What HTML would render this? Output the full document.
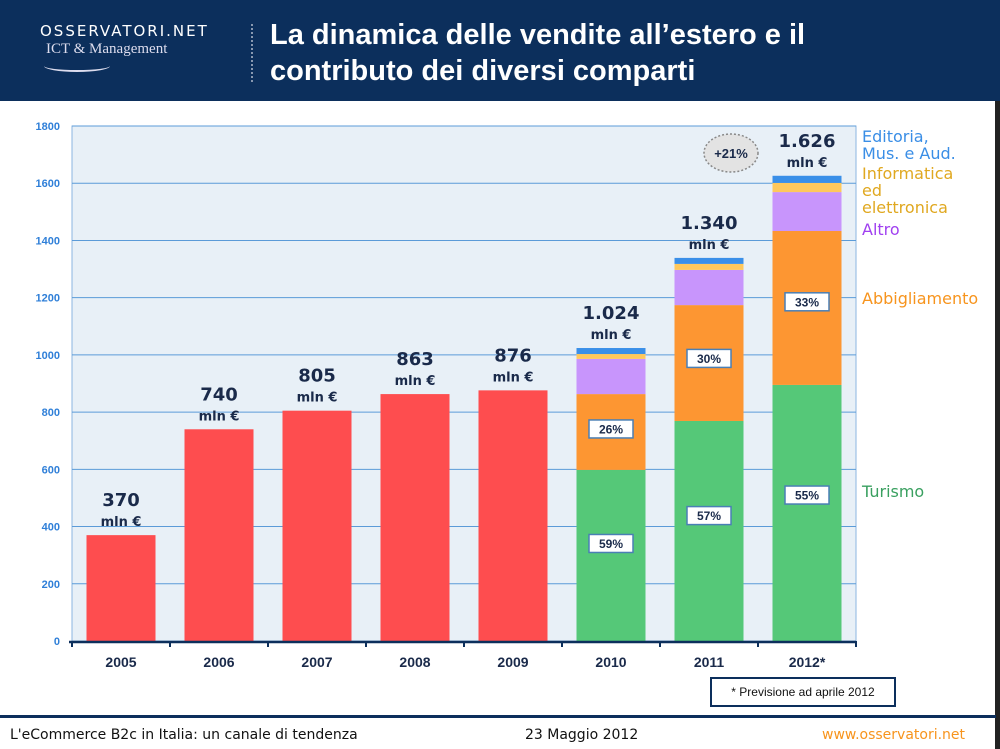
<!DOCTYPE html>
<html><head><meta charset="utf-8"><style>
body{margin:0;width:1000px;height:749px;overflow:hidden;background:#fff;font-family:"Liberation Sans","DejaVu Sans",sans-serif;position:relative}
.hdr{position:absolute;left:0;top:0;width:1000px;height:101px;background:#0c2f5c}
.t{position:absolute;color:#fff}
</style></head><body>
<div class="hdr">
 <div class="t" style="left:40px;top:22px;font-size:15px;letter-spacing:2px;font-family:'DejaVu Sans',sans-serif">OSSERVATORI.NET</div>
 <div class="t" style="left:46px;top:41px;font-size:15px;font-family:'Liberation Serif',serif;color:#dde">ICT &amp; Management</div>
 <div class="t" style="left:44px;top:60px;width:66px;height:10px;border-bottom:2px solid #dde;border-radius:0 0 50% 50%"></div>
 <div style="position:absolute;left:251px;top:24px;height:58px;border-left:2px dotted #8898b0"></div>
 <div class="t" style="left:270px;top:17px;font-size:29px;font-weight:bold;line-height:36px;font-family:'Liberation Sans',sans-serif">La dinamica delle vendite all’estero e il<br>contributo dei diversi comparti</div>
</div>
<div style="position:absolute;left:995px;top:101px;width:5px;height:648px;background:#222"></div>
<svg id="c" width="1000" height="749" style="position:absolute;left:0;top:0"></svg>
<div style="position:absolute;left:710px;top:677px;width:182px;height:26px;border:2px solid #0c2f5c;font-size:12px;line-height:26px;text-align:center;color:#111">* Previsione ad aprile 2012</div>
<div style="position:absolute;left:0;top:715px;width:996px;height:3px;background:#0c2f5c"></div>
<div style="position:absolute;left:10px;top:727px;font-size:14px;color:#111;font-family:'DejaVu Sans',sans-serif">L'eCommerce B2c in Italia: un canale di tendenza</div>
<div style="position:absolute;left:525px;top:727px;font-size:14px;color:#111;font-family:'DejaVu Sans',sans-serif">23 Maggio 2012</div>
<div style="position:absolute;left:822px;top:727px;font-size:14px;color:#f7941d;font-family:'DejaVu Sans',sans-serif">www.osservatori.net</div>
<script>
const years=["2005","2006","2007","2008","2009","2010","2011","2012*"];
const totalsSimple=[370,740,805,863,876,null,null,null];
const turismo=[0,0,0,0,0,598,769,895];
const abbigliamento=[0,0,0,0,0,265,405,538];
const altro=[0,0,0,0,0,123,123,136];
const informatica=[0,0,0,0,0,17,21,32];
const editoria=[0,0,0,0,0,21,21,25];
const totalLabels=["370","740","805","863","876","1.024","1.340","1.626"];
const pctTurismo=["","","","","","59%","57%","55%"];
const pctAbb=["","","","","","26%","30%","33%"];
const yTicks=[0,200,400,600,800,1000,1200,1400,1600,1800];
const NS="http://www.w3.org/2000/svg",svg=document.getElementById('c');
const X0=72,X1=856,Y0=641,Y1=126,MAX=1800;
const y=v=>Y0-(v/MAX)*(Y0-Y1);
const bw=(X1-X0)/years.length;
const cx=i=>X0+bw*(i+0.5);
function mk(t,a,txt){const e=document.createElementNS(NS,t);for(const k in a)e.setAttribute(k,a[k]);if(txt!=null)e.textContent=txt;svg.appendChild(e);return e;}
let e=mk('rect',{x:X0,y:Y1,width:X1-X0,height:Y0-Y1,fill:'#e8f0f7',stroke:'#8bb6e0','stroke-width':1});

yTicks.forEach(t=>{
 if(t>0){e=mk('line',{x1:X0,x2:X1,y1:y(t),y2:y(t),stroke:'#5b9bd8','stroke-width':1});
 }
 e=mk('text',{x:60,y:y(t)+4,'text-anchor':'end','font-size':11,'font-weight':'bold',fill:'#2f7fd8'},String(t));
 
});
const BW=69;
function seg(i,base,val,col,name){
 if(!val)return;
 const r=mk('rect',{x:cx(i)-BW/2,y:y(base+val),width:BW,height:y(base)-y(base+val),fill:col});
 
}
function box(i,mid,txt){
 const b=mk('rect',{x:cx(i)-22,y:y(mid)-9,width:44,height:18,fill:'#fff',stroke:'#4a7fb5','stroke-width':1.5});
 
 const t=mk('text',{x:cx(i),y:y(mid)+4.5,'text-anchor':'middle','font-size':12,'font-weight':'bold',fill:'#1a2a4a'},txt);
 
}
years.forEach((yr,i)=>{
 let top;
 if(totalsSimple[i]!=null){seg(i,0,totalsSimple[i],'#fe4d4f','bar-'+yr);top=totalsSimple[i];}
 else{
  let b=0;
  seg(i,b,turismo[i],'#55c878','bar-turismo');b+=turismo[i];
  seg(i,b,abbigliamento[i],'#fd9632','bar-abbigliamento');b+=abbigliamento[i];
  seg(i,b,altro[i],'#c895fc','bar-altro');b+=altro[i];
  seg(i,b,informatica[i],'#ffc85c','bar-informatica');b+=informatica[i];
  seg(i,b,editoria[i],'#3a8fe8','bar-editoria');b+=editoria[i];
  top=b;
  box(i,turismo[i]*0.57,pctTurismo[i]);
  box(i,turismo[i]+abbigliamento[i]*0.54,pctAbb[i]);
 }
 e=mk('text',{x:cx(i),y:y(top)-29,'text-anchor':'middle','font-size':18,'font-weight':'bold',fill:'#1a2a4a','font-family':'DejaVu Sans,sans-serif'},totalLabels[i]);
 
 e=mk('text',{x:cx(i),y:y(top)-9,'text-anchor':'middle','font-size':13,'font-weight':'bold',fill:'#1a2a4a','font-family':'DejaVu Sans,sans-serif'},'mln €');
 
 e=mk('text',{x:cx(i),y:667,'text-anchor':'middle','font-size':14,'font-weight':'bold',fill:'#1a2a4a'},yr);
 
});
e=mk('line',{x1:X0-3,x2:X1,y1:Y0+1,y2:Y0+1,stroke:'#0c2f5c','stroke-width':2.5});

for(let i=0;i<=years.length;i++){e=mk('line',{x1:X0+bw*i,x2:X0+bw*i,y1:Y0,y2:Y0+6,stroke:'#0c2f5c','stroke-width':2});
 }
e=mk('ellipse',{cx:731,cy:153,rx:27,ry:19,fill:'#e3e3e3',stroke:'#888','stroke-width':1.5,'stroke-dasharray':'2 2'});

e=mk('text',{x:731,y:158,'text-anchor':'middle','font-size':13,'font-weight':'bold',fill:'#1a2a4a'},'+21%');

const legend=[["Editoria,",140,"#3a8ee6"],["Mus. e Aud.",157,"#3a8ee6"],["Informatica",177,"#e0a820"],["ed",194,"#e0a820"],["elettronica",211,"#e0a820"],["Altro",233,"#a040f0"],["Abbigliamento",302,"#f7941d"],["Turismo",495,"#3aa060"]];
legend.forEach(l=>{e=mk('text',{x:862,y:l[1]+2,'font-size':16,fill:l[2],'font-family':'DejaVu Sans,sans-serif'},l[0]);
 });
</script>
</body></html>
